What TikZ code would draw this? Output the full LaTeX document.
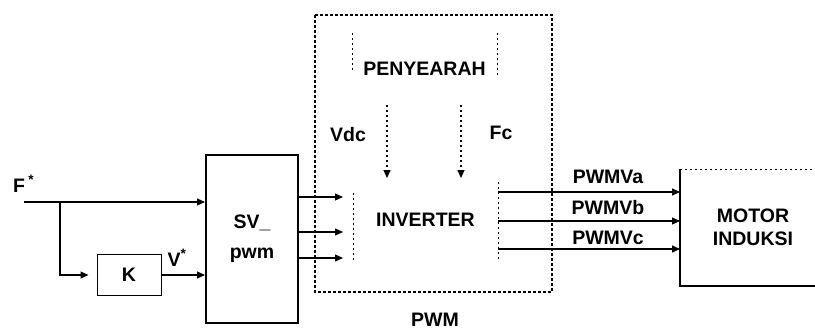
\documentclass[tikz,border=0pt]{standalone}
\usepackage{fontspec}
\setmainfont{Liberation Sans}
\usetikzlibrary{arrows.meta}
\begin{document}
\begin{tikzpicture}[x=1pt,y=-1pt,
  lbl/.style={font=\fontsize{19.5}{21}\selectfont\bfseries, inner sep=0pt},
  wire/.style={line width=1.1pt},
  conn/.style={wire, -{Triangle[length=8pt,width=7pt]}},
  dotarrow/.style={line width=1.1pt, dash pattern=on 2pt off 3pt, -{Triangle[length=8pt,width=7pt]}},
  faint/.style={line width=1pt, dash pattern=on 2pt off 3pt},
  outerbox/.style={line width=1.1pt, dash pattern=on 3pt off 2pt}]
\useasboundingbox (0,0) rectangle (815,330);

% outer PWM subsystem
\draw[outerbox] (315,15) rectangle (552,292);
\node[lbl] (pwm) at (435,319.5) {PWM};

% PENYEARAH block (faint sides)
\node[lbl, minimum width=145pt, minimum height=72pt] (pen) at (424.5,69) {PENYEARAH};
\draw[faint] (352,33) -- (352,72);
\draw[faint] (497,33) -- (497,78);

% INVERTER block (faint sides)
\node[lbl, minimum width=145pt, minimum height=80pt] (inv) at (425.5,220) {INVERTER};
\draw[faint] (353,193) -- (353,262);
\draw[faint] (498,182) -- (498,262);

% Vdc, Fc
\node[lbl] (vdc) at (348,135) {Vdc};
\node[lbl] (fc) at (501,133) {Fc};
\coordinate (vdctop) at (387,105);
\coordinate (vdcend) at (387,178);
\coordinate (fctop) at (461,105);
\coordinate (fcend) at (461,178);
\draw[dotarrow] (vdctop) -- (vdcend);
\draw[dotarrow] (fctop) -- (fcend);

% SV_pwm block
\node[draw, line width=2pt, minimum width=92pt, minimum height=168pt, align=center,
      font=\fontsize{19.5}{30}\selectfont\bfseries, inner sep=0pt] (sv) at (252,239) {SV\_\\pwm};

% K block
\node[draw, line width=1pt, minimum width=64pt, minimum height=41pt, lbl] (k) at (129,274.5) {K};

% inputs
\node[lbl, anchor=west] (flbl) at (13,184) {F\,\textsuperscript{*}};
\coordinate (fin) at (24,202);
\coordinate (fj) at (60,202);
\coordinate (fk) at (60,275);
\draw[wire] (fin) -- (fj);
\draw[conn] (fj) -- (sv.west |- fj);
\draw[conn, shorten >=8pt] (fj) -- (fk) -- (k.west |- fk);
\draw[conn] (k.east |- fk) -- (sv.west |- fk);
\node[lbl] (vlbl) at (177,258) {V\textsuperscript{*}};

% SV_pwm to inverter
\coordinate (i1) at (343,197);
\coordinate (i2) at (343,232);
\coordinate (i3) at (343,258);
\draw[conn] (sv.east |- i1) -- (i1);
\draw[conn] (sv.east |- i2) -- (i2);
\draw[conn] (sv.east |- i3) -- (i3);

% Motor
\node[lbl, align=center, font=\fontsize{19.5}{23}\selectfont\bfseries] (motor) at (753,227) {MOTOR\\INDUKSI};
\draw[line width=1.2pt] (830,286) -- (680,286) -- (680,169);
\draw[faint] (680,169) -- (830,169);
\coordinate (mleft) at (680,227);

% outputs
\coordinate (o1) at (498,192);
\coordinate (o2) at (498,221);
\coordinate (o3) at (498,249);
\draw[conn] (o1) -- (mleft |- o1);
\draw[conn] (o2) -- (mleft |- o2);
\draw[conn] (o3) -- (mleft |- o3);
\node[lbl] (pa) at (608,177) {PWMVa};
\node[lbl] (pb) at (608,208) {PWMVb};
\node[lbl] (pc) at (608,238) {PWMVc};
\end{tikzpicture}
\end{document}
